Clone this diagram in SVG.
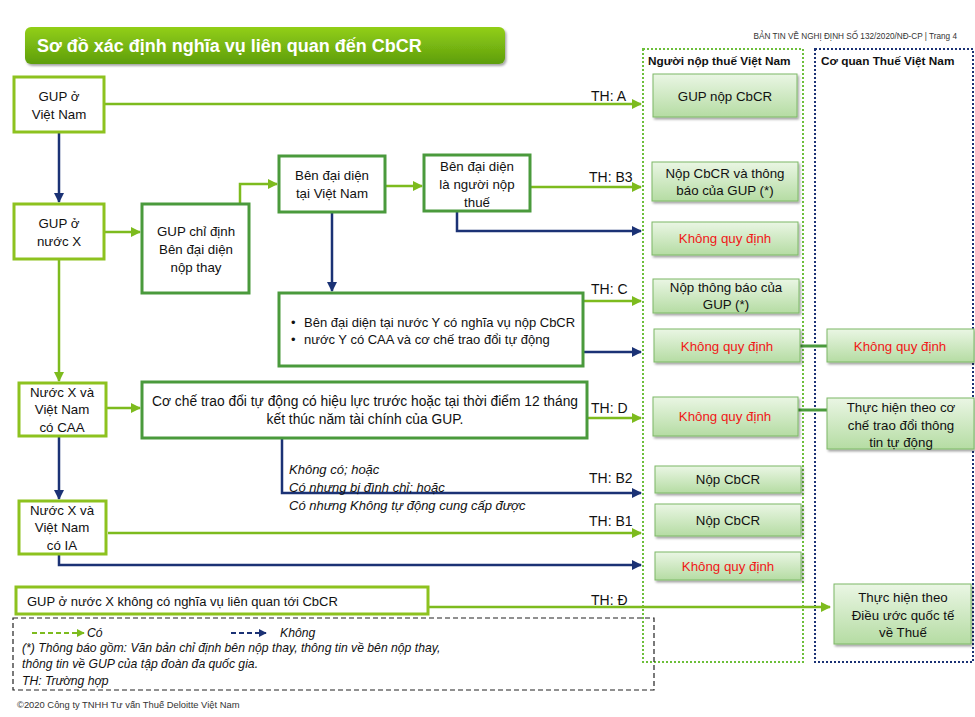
<svg xmlns="http://www.w3.org/2000/svg" width="975" height="717" viewBox="0 0 975 717">
<defs>
<linearGradient id="gTitle" x1="0" y1="0" x2="0" y2="1"><stop offset="0" stop-color="#92CF16"/><stop offset="1" stop-color="#5E9E0E"/></linearGradient>
<linearGradient id="gRes" x1="0" y1="0" x2="0" y2="1"><stop offset="0" stop-color="#EAF6E4"/><stop offset="1" stop-color="#B5DCA3"/></linearGradient>
<filter id="sh" x="-10%" y="-10%" width="130%" height="140%"><feDropShadow dx="1.5" dy="2" stdDeviation="1.2" flood-color="#000" flood-opacity="0.35"/></filter>
<marker id="mg" viewBox="0 0 10 10" refX="9" refY="5" markerWidth="4" markerHeight="4" orient="auto"><path d="M0,0 L10,5 L0,10 z" fill="#7DBB1E"/></marker>
<marker id="mn" viewBox="0 0 10 10" refX="9" refY="5" markerWidth="4" markerHeight="4" orient="auto"><path d="M0,0 L10,5 L0,10 z" fill="#1B3275"/></marker>
<style>
text{font-family:"Liberation Sans",Arial,sans-serif;fill:#111;}
.n{font-size:13.3px;text-anchor:middle;}
.th{font-size:14px;}
.red{fill:#F01818;}
.lbox{fill:#fff;stroke:#8DC21F;stroke-width:3;}
.dbox{fill:#fff;stroke:#4A9A3C;stroke-width:3;}
.res{fill:url(#gRes);stroke:#7DB866;stroke-width:1;filter:url(#sh);}
.g{fill:none;stroke:#7DBB1E;stroke-width:2.5;}
.nv{fill:none;stroke:#1B3275;stroke-width:2.5;}
.it{font-style:italic;font-size:12.2px;}
.it2{font-style:italic;font-size:13px;}
</style>
</defs>
<rect width="975" height="717" fill="#fff"/>

<g id="header">
<rect x="25" y="27" width="480" height="37" rx="6" fill="url(#gTitle)" filter="url(#sh)"/>
<text x="37" y="52" style="font-size:18px;font-weight:bold;fill:#fff">Sơ đồ xác định nghĩa vụ liên quan đến CbCR</text>
<text x="957" y="39" style="font-size:8.2px;text-anchor:end;fill:#333">BẢN TIN VỀ NGHỊ ĐỊNH SỐ 132/2020/NĐ-CP | Trang 4</text>
</g>

<g id="columns">
<rect x="643" y="49" width="160" height="613" fill="none" stroke="#6CBF3A" stroke-width="2" stroke-dasharray="2,2"/>
<rect x="815" y="49" width="158" height="613" fill="none" stroke="#1B3275" stroke-width="2" stroke-dasharray="2,2"/>
<text x="648" y="65" style="font-size:11.8px;font-weight:bold">Người nộp thuế Việt Nam</text>
<text x="821" y="65" style="font-size:11.8px;font-weight:bold">Cơ quan Thuế Việt Nam</text>
</g>

<g id="connectors">
<path class="g" d="M104,104 H641" marker-end="url(#mg)"/>
<path class="nv" d="M59,132 V202" marker-end="url(#mn)"/>
<path class="g" d="M104,232 H140" marker-end="url(#mg)"/>
<path class="g" d="M240,204 V184 H277" marker-end="url(#mg)"/>
<path class="g" d="M385,186 H422" marker-end="url(#mg)"/>
<path class="g" d="M530,187 H641" marker-end="url(#mg)"/>
<path class="nv" d="M457,211 V231 H641" marker-end="url(#mn)"/>
<path class="nv" d="M332,212 V291" marker-end="url(#mn)"/>
<path class="g" d="M583,301 H641" marker-end="url(#mg)"/>
<path class="nv" d="M583,352 H641" marker-end="url(#mn)"/>
<path class="g" d="M59,259 V381" marker-end="url(#mg)"/>
<path class="g" d="M106,408 H140" marker-end="url(#mg)"/>
<path class="g" d="M587,418 H641" marker-end="url(#mg)"/>
<path class="nv" d="M282,438 V493 H641" marker-end="url(#mn)"/>
<path class="nv" d="M59,436 V499" marker-end="url(#mn)"/>
<path class="g" d="M108,533 H641" marker-end="url(#mg)"/>
<path class="nv" d="M59,554 V565 H641" marker-end="url(#mn)"/>
<path class="g" d="M428,607 H830" marker-end="url(#mg)"/>
<path d="M800,346 H827 M798,410 H827" fill="none" stroke="#4A9A3C" stroke-width="3"/>
<text class="th" x="591" y="101">TH: A</text>
<text class="th" x="589" y="182">TH: B3</text>
<text class="th" x="591" y="294">TH: C</text>
<text class="th" x="591" y="413">TH: D</text>
<text class="th" x="589" y="483">TH: B2</text>
<text class="th" x="589" y="526">TH: B1</text>
<text class="th" x="591" y="605">TH: Đ</text>
<text class="it2" x="289" y="474">Không có; hoặc</text>
<text class="it2" x="289" y="492">Có nhưng bị đình chỉ; hoặc</text>
<text class="it2" x="289" y="510">Có nhưng Không tự động cung cấp được</text>
</g>

<g id="gup-vn"><rect class="lbox" x="14" y="77" width="90" height="55"/><text class="n" x="59" y="101">GUP ở</text><text class="n" x="59" y="119">Việt Nam</text></g>
<g id="gup-x"><rect class="lbox" x="14" y="204" width="90" height="55"/><text class="n" x="59" y="228">GUP ở</text><text class="n" x="59" y="246">nước X</text></g>
<g id="gup-chi-dinh"><rect class="dbox" x="142" y="204" width="107" height="89"/><text class="n" x="196" y="236">GUP chỉ định</text><text class="n" x="196" y="254">Bên đại diện</text><text class="n" x="196" y="272">nộp thay</text></g>
<g id="ben-dai-dien-vn"><rect class="dbox" x="279" y="156" width="106" height="56"/><text class="n" x="332" y="180">Bên đại diện</text><text class="n" x="332" y="198">tại Việt Nam</text></g>
<g id="ben-dai-dien-npt"><rect class="dbox" x="424" y="155" width="106" height="56"/><text class="n" x="477" y="171">Bên đại diện</text><text class="n" x="477" y="189">là người nộp</text><text class="n" x="477" y="207">thuế</text></g>
<g id="nuoc-y"><rect class="dbox" x="279" y="293" width="304" height="73"/>
<text x="291" y="327" style="font-size:13px">•</text><text x="304" y="327" style="font-size:13px">Bên đại diện tại nước Y có nghĩa vụ nộp CbCR</text>
<text x="291" y="344" style="font-size:13px">•</text><text x="304" y="344" style="font-size:13px">nước Y có CAA và cơ chế trao đổi tự động</text></g>
<g id="caa"><rect class="lbox" x="19" y="383" width="87" height="53"/><text class="n" x="62" y="397">Nước X và</text><text class="n" x="62" y="414">Việt Nam</text><text class="n" x="62" y="432">có CAA</text></g>
<g id="co-che"><rect class="dbox" x="142" y="382" width="445" height="56"/><text class="n" x="365" y="406" style="font-size:13.8px">Cơ chế trao đổi tự động có hiệu lực trước hoặc tại thời điểm 12 tháng</text><text class="n" x="365" y="424" style="font-size:13.8px">kết thúc năm tài chính của GUP.</text></g>
<g id="ia"><rect class="lbox" x="19" y="501" width="87" height="53"/><text class="n" x="62" y="515">Nước X và</text><text class="n" x="62" y="532">Việt Nam</text><text class="n" x="62" y="550">có IA</text></g>
<g id="gup-x-none"><rect class="lbox" x="16" y="587" width="412" height="27"/><text x="27" y="606" style="font-size:13px">GUP ở nước X không có nghĩa vụ liên quan tới CbCR</text></g>

<g id="r-a"><rect class="res" x="653" y="74" width="144" height="43"/><text class="n" x="725" y="101">GUP nộp CbCR</text></g>
<g id="r-b3"><rect class="res" x="652" y="162" width="146" height="39"/><text class="n" x="725" y="178">Nộp CbCR và thông</text><text class="n" x="725" y="195">báo của GUP (*)</text></g>
<g id="r-b3n"><rect class="res" x="652" y="222" width="146" height="33"/><text class="n red" x="725" y="243">Không quy định</text></g>
<g id="r-c"><rect class="res" x="653" y="279" width="146" height="34"/><text class="n" x="726" y="292">Nộp thông báo của</text><text class="n" x="726" y="309">GUP (*)</text></g>
<g id="r-cn"><rect class="res" x="654" y="329" width="146" height="33"/><text class="n red" x="727" y="351">Không quy định</text></g>
<g id="t-cn"><rect class="res" x="827" y="329" width="147" height="33"/><text class="n red" x="900" y="351">Không quy định</text></g>
<g id="r-d"><rect class="res" x="653" y="397" width="145" height="39"/><text class="n red" x="725" y="421">Không quy định</text></g>
<g id="t-d"><rect class="res" x="827" y="398" width="147" height="51"/><text class="n" x="901" y="412">Thực hiện theo cơ</text><text class="n" x="901" y="430">chế trao đổi thông</text><text class="n" x="901" y="447">tin tự động</text></g>
<g id="r-b2"><rect class="res" x="655" y="466" width="146" height="27"/><text class="n" x="728" y="484">Nộp CbCR</text></g>
<g id="r-b1"><rect class="res" x="655" y="504" width="146" height="32"/><text class="n" x="728" y="525">Nộp CbCR</text></g>
<g id="r-ian"><rect class="res" x="655" y="552" width="146" height="28"/><text class="n red" x="728" y="571">Không quy định</text></g>
<g id="t-dd"><rect class="res" x="834" y="584" width="137" height="60"/><text class="n" x="903" y="602">Thực hiện theo</text><text class="n" x="903" y="620">Điều ước quốc tế</text><text class="n" x="903" y="637">về Thuế</text></g>

<g id="legend">
<rect x="13" y="618" width="641" height="72" fill="none" stroke="#222" stroke-width="1.2" stroke-dasharray="5,3"/>
<path d="M32,633 H84" fill="none" stroke="#7DBB1E" stroke-width="2" stroke-dasharray="5,3" marker-end="url(#mg)"/>
<text class="it" x="87" y="637">Có</text>
<path d="M231,633 H266" fill="none" stroke="#1B3275" stroke-width="2" stroke-dasharray="5,3" marker-end="url(#mn)"/>
<text class="it" x="280" y="637">Không</text>
<text class="it" x="22" y="652">(*) Thông báo gồm: Văn bản chỉ định bên nộp thay, thông tin về bên nộp thay,</text>
<text class="it" x="22" y="668">thông tin về GUP của tập đoàn đa quốc gia.</text>
<text class="it" x="22" y="685">TH: Trường hợp</text>
</g>
<text x="17" y="708" style="font-size:9.4px;fill:#333">©2020 Công ty TNHH Tư vấn Thuế Deloitte Việt Nam</text>
</svg>
